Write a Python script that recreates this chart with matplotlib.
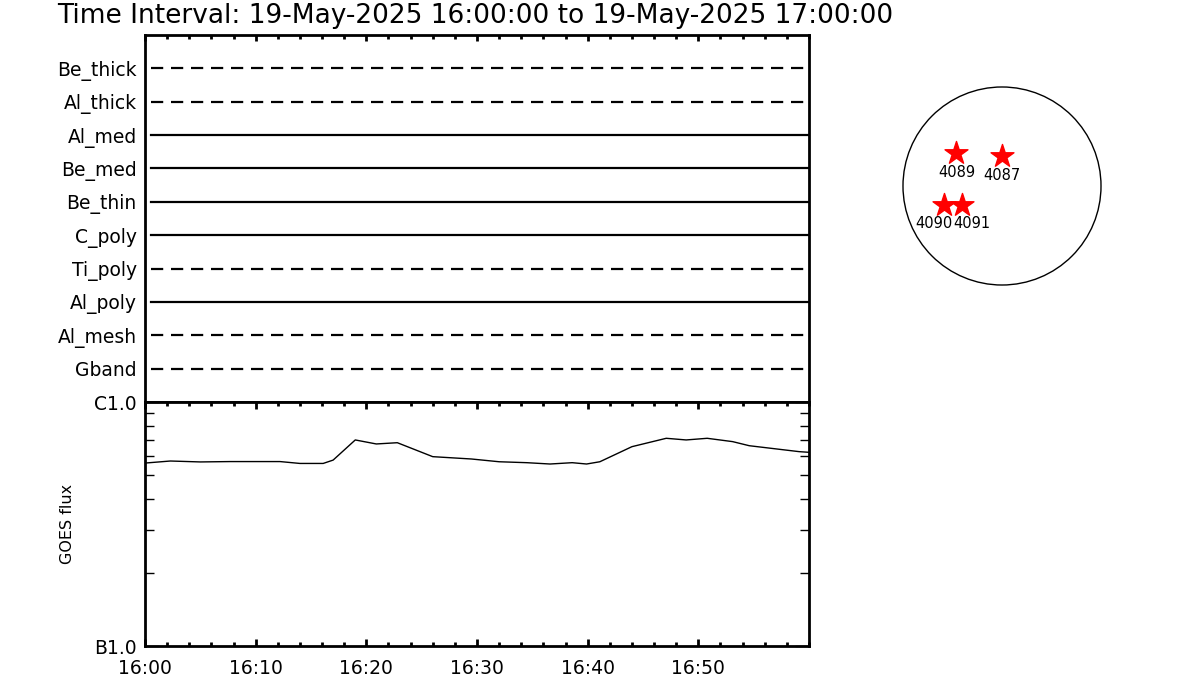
import numpy as np
import matplotlib.pyplot as plt
from matplotlib.patches import Circle
from matplotlib.ticker import FixedLocator, NullFormatter

# ------------------------- Data -------------------------
title = 'Time Interval: 19-May-2025 16:00:00 to 19-May-2025 17:00:00'

# XRT filter channels (bottom to top) and whether observed (solid) or not (dashed)
channels = ['Gband', 'Al_mesh', 'Al_poly', 'Ti_poly', 'C_poly',
            'Be_thin', 'Be_med', 'Al_med', 'Al_thick', 'Be_thick']
channel_observed = [False, False, True, False, True,
                    True, True, True, False, False]

# GOES flux, minutes after 16:00
goes_min = [0.0, 2.3, 5.0, 7.7, 12.2, 14.0, 16.1, 17.0, 19.0, 20.9, 22.8,
            26.0, 29.5, 32.0, 34.5, 36.6, 38.6, 39.9, 41.1, 44.0, 47.1,
            48.9, 50.8, 53.1, 54.6, 59.1, 60.0]
goes_flux = [5.62e-7, 5.73e-7, 5.68e-7, 5.70e-7, 5.70e-7, 5.60e-7, 5.60e-7,
             5.78e-7, 6.99e-7, 6.73e-7, 6.81e-7, 5.97e-7, 5.84e-7, 5.69e-7,
             5.64e-7, 5.57e-7, 5.64e-7, 5.57e-7, 5.69e-7, 6.56e-7, 7.10e-7,
             6.99e-7, 7.10e-7, 6.88e-7, 6.62e-7, 6.26e-7, 6.22e-7]

x_major = [0, 10, 20, 30, 40, 50]
x_labels = ['16:00', '16:10', '16:20', '16:30', '16:40', '16:50']
y_major = [1e-7, 1e-6]
y_labels = ['B1.0', 'C1.0']

# active regions, heliocentric arcsec
ar_num = ['4089', '4087', '4090', '4091']
ar_x = [-442, 0, -566, -384]
ar_y = [317, 288, -182, -182]
r_sun = 960

# ------------------------- Figure -------------------------
fig = plt.figure(figsize=(12, 7), dpi=100)
fig.text(57 / 1200, 1 - 16 / 700, title, fontsize=19, va='center', ha='left')

ax_top = fig.add_axes([145 / 1200, 298 / 700, 664 / 1200, 367 / 700])
ax_bot = fig.add_axes([145 / 1200, 54 / 700, 664 / 1200, 244 / 700])

# top panel: channel coverage lines
ypos = np.arange(len(channels))
for y, obs in zip(ypos, channel_observed):
    ax_top.plot([0.5, 60], [y, y], color='black', lw=1.6,
                ls='-' if obs else (0, (5.5, 3.5)))
ax_top.set_xlim(0, 60)
ax_top.set_ylim(-1, 10)
ax_top.set_yticks(ypos)
ax_top.set_yticklabels(channels, fontsize=13.5)
ax_top.tick_params(axis='y', length=0, pad=6)
ax_top.xaxis.set_ticks_position('top')
ax_top.xaxis.set_major_locator(FixedLocator(x_major))
ax_top.xaxis.set_minor_locator(FixedLocator(np.arange(0, 61, 2)))
ax_top.xaxis.set_major_formatter(NullFormatter())
ax_top.tick_params(axis='x', which='major', direction='in', length=4, width=2)
ax_top.tick_params(axis='x', which='minor', direction='in', length=3, width=2)

# bottom panel: GOES light curve
ax_bot.plot(goes_min, goes_flux, color='black', lw=1)
ax_bot.set_xlim(0, 60)
ax_bot.set_yscale('log')
ax_bot.set_ylim(1e-7, 1e-6)
ax_bot.set_xticks(x_major)
ax_bot.set_xticklabels(x_labels, fontsize=13.5)
ax_bot.xaxis.set_minor_locator(FixedLocator(np.arange(0, 61, 2)))
ax_bot.set_yticks(y_major)
ax_bot.set_yticklabels(y_labels, fontsize=13.5)
ax_bot.yaxis.set_minor_locator(FixedLocator([k * 1e-7 for k in range(2, 10)]))
ax_bot.yaxis.set_minor_formatter(NullFormatter())
ax_bot.tick_params(which='both', direction='in', top=True, right=True, width=1)
ax_bot.tick_params(axis='x', which='major', length=5, width=2, pad=9)
ax_bot.tick_params(axis='x', which='minor', length=3, width=2)
ax_bot.tick_params(axis='y', which='major', length=10, width=1, pad=6)
ax_bot.tick_params(axis='y', which='minor', length=6.5, width=1)
ax_bot.set_ylabel('GOES flux', fontsize=11.5, labelpad=14)

for ax in (ax_top, ax_bot):
    for sp in ax.spines.values():
        sp.set_linewidth(2)

# solar disk with active regions
ax_sun = fig.add_axes([902 / 1200, 414 / 700, 200 / 1200, 200 / 700])
ax_sun.add_patch(Circle((0, 0), r_sun, fill=False, edgecolor='black', lw=1))
ax_sun.scatter(ar_x, ar_y, marker='*', s=300, color='red', zorder=3)
label_dx = [0, 0, -90, 90]
for num, x, y, dx in zip(ar_num, ar_x, ar_y, label_dx):
    ax_sun.text(x + dx, y - 110, num, fontsize=10.5, ha='center', va='top')
ax_sun.set_xlim(-r_sun * 1.01, r_sun * 1.01)
ax_sun.set_ylim(-r_sun * 1.01, r_sun * 1.01)
ax_sun.set_aspect('equal')
ax_sun.axis('off')

plt.savefig('out.png', dpi=100)
